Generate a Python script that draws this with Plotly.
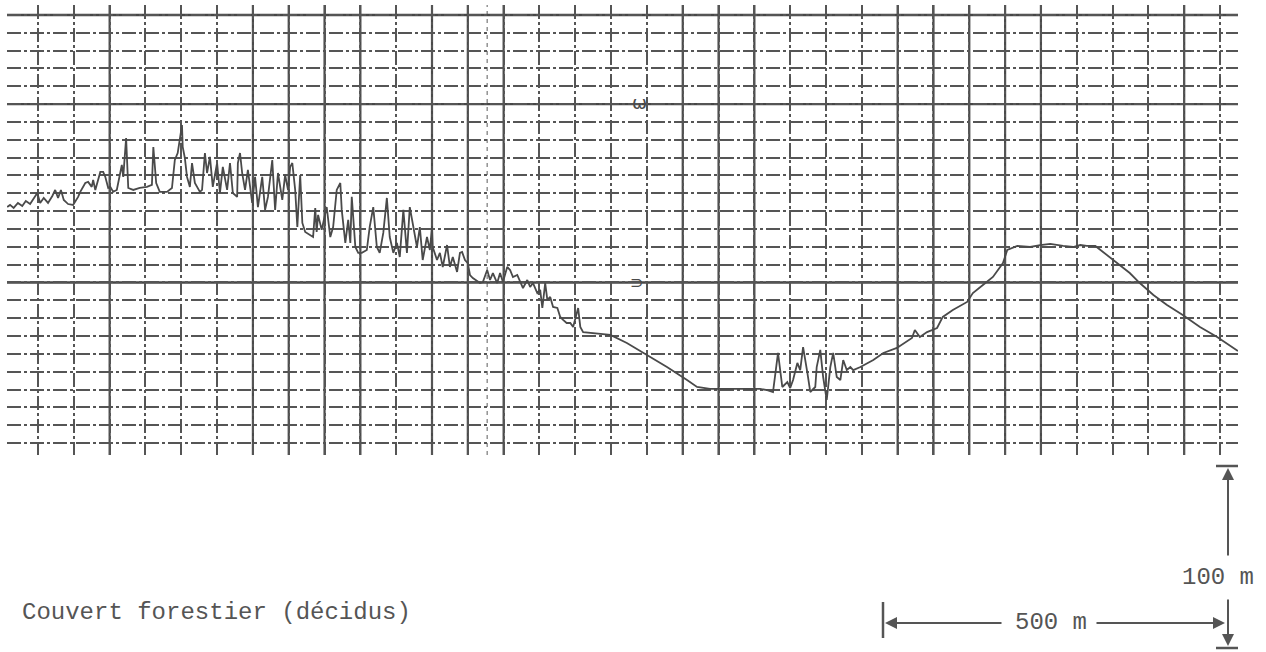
import plotly.graph_objects as go

# Profile: horizontal distance (m) and height (m)
dist_m = [-43,-39,-34,-28,-22,-17,-11,-6,-1,3,8,14,20,24,28,32,36,42,49,56,59,66,70,75,77,80,87,91,94,98,101,105,110,117,119,123,126,133,142,152,159,161,165,170,180,187,191,195,198,201,202,205,208,212,215,219,226,229,233,236,240,244,250,254,258,264,268,272,278,279,282,285,289,293,299,303,307,313,317,321,327,331,335,341,345,349,352,355,359,362,366,369,373,384,387,389,391,396,403,408,412,417,422,424,429,433,436,438,443,447,452,459,463,468,473,477,482,487,491,496,501,505,510,515,519,524,529,533,537,543,547,550,551,557,561,565,571,575,579,585,589,592,596,600,603,607,617,621,627,631,635,641,645,649,655,659,663,669,673,677,683,687,691,697,701,704,708,711,715,719,725,729,733,738,743,747,754,757,761,775,799,822,850,878,906,920,938,984,1008,1018,1026,1033,1039,1046,1050,1054,1060,1064,1068,1074,1078,1085,1087,1092,1096,1101,1106,1110,1115,1120,1124,1129,1134,1138,1148,1166,1180,1199,1220,1224,1231,1241,1255,1263,1277,1297,1305,1319,1333,1347,1353,1367,1385,1399,1413,1431,1445,1455,1464,1476,1492,1506,1524,1538,1557,1576,1598,1622,1646,1675]
height_m = [132.3,133.5,131.8,134.6,132.9,135.7,134.0,136.8,140.2,134.6,137.4,134.6,138.5,141.9,137.4,141.9,136.3,134.0,133.5,138.0,140.8,145.8,146.4,143.6,147.5,141.9,152.0,152.0,149.2,143.0,143.6,140.8,141.9,155.9,149.2,171.0,143.0,141.9,143.0,143.6,144.7,166.0,145.8,140.8,140.8,143.0,158.7,162.6,171.0,178.3,166.0,159.8,149.2,143.6,157.0,145.8,140.8,141.9,162.6,151.4,160.4,143.6,157.0,140.2,154.8,141.9,157.0,140.2,138.0,157.0,162.6,151.4,141.9,153.1,134.6,149.2,132.3,149.2,130.7,138.0,158.7,130.7,151.4,136.3,150.3,141.9,154.8,157.0,141.9,121.1,150.3,123.4,118.3,115.5,131.8,118.3,127.9,119.5,132.3,115.5,121.1,141.9,145.8,130.7,112.2,125.1,112.2,138.0,109.9,106.6,106.6,108.2,121.1,132.3,109.9,106.6,117.8,137.4,115.5,106.6,112.2,104.3,130.7,106.6,132.3,121.1,109.9,121.1,102.6,115.5,108.2,121.1,109.9,102.6,106.6,98.7,111.0,98.7,104.3,95.9,106.6,107.1,102.6,100.9,94.2,92.5,89.7,90.3,97.0,91.4,95.3,89.7,95.3,90.3,98.7,97.0,93.1,94.2,90.3,86.9,91.4,87.5,89.7,84.1,85.8,75.7,89.7,80.2,81.9,76.3,75.7,70.7,69.0,67.3,67.3,65.1,75.7,65.1,62.2,61.7,60.6,56.1,49.4,42.6,35.3,31.4,30.3,30.3,30.3,29.7,28.6,50.5,31.4,34.2,30.8,35.3,44.9,40.9,53.8,39.3,28.6,31.4,42.6,52.2,37.0,24.1,42.6,50.5,37.0,35.3,46.5,40.9,42.6,40.9,42.6,46.5,50.5,53.3,58.9,63.4,59.4,62.2,64.5,70.7,74.6,79.1,84.1,88.6,93.1,100.9,108.2,110.5,109.9,111.0,111.6,110.5,109.9,111.0,110.5,110.5,105.4,100.9,95.3,89.7,83.0,77.4,71.8,65.1,59.4,51.6]

# Graph-paper grid: 50 m per vertical division, 10 m per horizontal division
grid_dx_m = 50
grid_dy_m = 10
heavy_x_m = [100, 300, 350, 400, 450, 550, 600, 650, 900, 950, 1000, 1200, 1250, 1300, 1350, 1400, 1600]
heavy_y_m = [90, 190, 240]
extra_x_m = [627]

caption = "Couvert forestier (décidus)"
scale_h_label = "500 m"
scale_v_label = "100 m"

INK = "#4a4a4a"
GRID = "#555555"

fig = go.Figure()
fig.add_trace(go.Scatter(x=dist_m, y=height_m, mode="lines",
                         line=dict(color=INK, width=1.8), hoverinfo="skip",
                         showlegend=False))

shapes = []
for xv in heavy_x_m:
    shapes.append(dict(type="line", xref="x", yref="paper", x0=xv, x1=xv, y0=0, y1=1,
                       line=dict(color="#4a4a4a", width=2.2), layer="below"))
for xv in extra_x_m:
    shapes.append(dict(type="line", xref="x", yref="paper", x0=xv, x1=xv, y0=0, y1=1,
                       line=dict(color="#777777", width=1.2, dash="4px,4px"), layer="below"))
for yv in heavy_y_m:
    shapes.append(dict(type="line", xref="paper", yref="y", x0=0, x1=1, y0=yv, y1=yv,
                       line=dict(color="#474747", width=2.4), layer="below"))

# Scale bar (paper coordinates below the grid)
def px_x(px):
    return (px - 7) / 1231.0

def px_y(py):
    return (455 - py) / 450.0

bar_col = "#555555"
shapes.append(dict(type="line", xref="paper", yref="paper", x0=px_x(1216), x1=px_x(1238),
                   y0=px_y(466), y1=px_y(466), line=dict(color=bar_col, width=2.5)))
shapes.append(dict(type="line", xref="paper", yref="paper", x0=px_x(1216), x1=px_x(1238),
                   y0=px_y(648), y1=px_y(648), line=dict(color=bar_col, width=2.5)))
shapes.append(dict(type="line", xref="paper", yref="paper", x0=px_x(883), x1=px_x(883),
                   y0=px_y(602), y1=px_y(638), line=dict(color=bar_col, width=2.5)))

annotations = []
def arrow(tip_x, tip_y, tail_x, tail_y):
    annotations.append(dict(xref="paper", yref="paper", x=px_x(tip_x), y=px_y(tip_y),
                            ax=tail_x - tip_x, ay=tail_y - tip_y, axref="pixel", ayref="pixel",
                            text="", showarrow=True, arrowhead=2, arrowsize=1.2,
                            arrowwidth=2, arrowcolor=bar_col))

arrow(1228, 468, 1228, 557)
arrow(1228, 646, 1228, 598)
arrow(885, 623, 1003, 623)
arrow(1225, 623, 1095, 623)

font = dict(family="Liberation Mono, Courier New, monospace", size=24, color="#555555")
annotations.append(dict(xref="paper", yref="paper", x=px_x(1218), y=px_y(577),
                        text=scale_v_label, showarrow=False, font=font,
                        xanchor="center", yanchor="middle"))
annotations.append(dict(xref="paper", yref="paper", x=px_x(1051), y=px_y(622),
                        text=scale_h_label, showarrow=False, font=font,
                        xanchor="center", yanchor="middle"))
annotations.append(dict(xref="paper", yref="paper", x=px_x(20), y=px_y(612),
                        text=caption, showarrow=False, font=font,
                        xanchor="left", yanchor="middle"))
# pen marks on the record
annotations.append(dict(xref="x", yref="y", x=840, y=191, text="ω", showarrow=False,
                        font=dict(family="DejaVu Sans", size=18, color=INK)))
annotations.append(dict(xref="x", yref="y", x=836, y=90, text="⊃", showarrow=False,
                        font=dict(family="DejaVu Sans", size=16, color=INK)))

axis_common = dict(showticklabels=False, ticks="", zeroline=False, showline=False,
                   showgrid=True, gridcolor=GRID, gridwidth=1.7,
                   griddash="14px,3px,3px,3px", fixedrange=True)

fig.update_layout(
    width=1266, height=652,
    margin=dict(l=7, r=28, t=5, b=197),
    paper_bgcolor="white", plot_bgcolor="white",
    xaxis=dict(range=[-43.27, 1675.1], tick0=0, dtick=grid_dx_m, **axis_common),
    yaxis=dict(range=[-6.73, 245.6], tick0=0, dtick=grid_dy_m, **axis_common),
    shapes=shapes, annotations=annotations, showlegend=False,
)

fig.write_html("out.html")
